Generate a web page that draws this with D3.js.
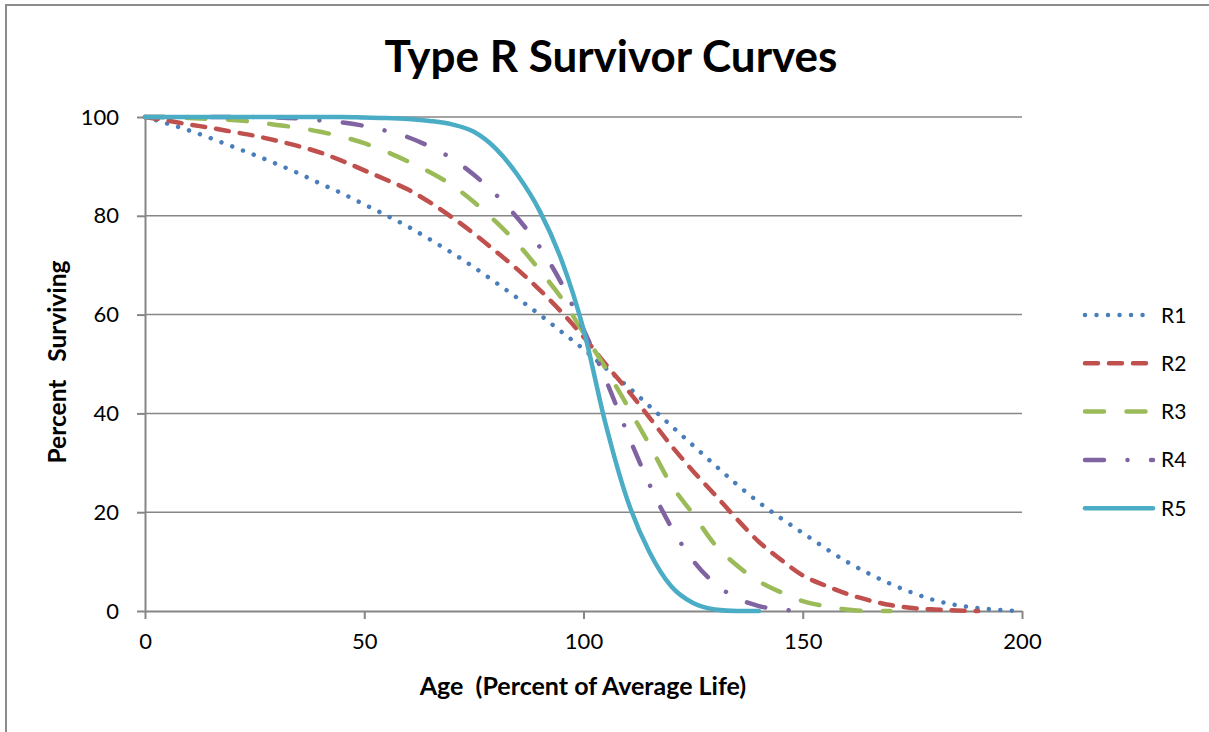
<!DOCTYPE html>
<meta charset="utf-8">
<style>
  body { margin: 0; background: #fff; }
  svg text { font-family: Lato, "Open Sans", sans-serif; fill: #000; }
  .grid line { stroke: #868686; stroke-width: 1.5; }
  .axis path, .axis line { stroke: #868686; stroke-width: 2; }
  .axis text { font-size: 22px; }
</style>

<script src="https://d3js.org/d3.v7.min.js"></script>

<div id="my_dataviz"></div>

<script>

// ages in percent of average life
var ages = [0, 5, 10, 15, 20, 25, 30, 35, 40, 45, 50, 55, 60, 65, 70, 75, 80, 85, 90, 95, 100,
            105, 110, 115, 120, 125, 130, 135, 140, 145, 150, 155, 160, 165, 170, 175, 180, 185, 190, 195, 200];

// percent surviving (each series stops where it hits 0)
var r1 = [100, 98.7, 97.3, 95.7, 94, 92.3, 90.5, 88.6, 86.5, 84.5, 82.3, 80.1, 77.8, 75.2, 72.5, 69.6, 66.5, 63.3, 60, 56.5, 53,
          49.2, 45.5, 41.5, 37.5, 33.5, 29.5, 25.6, 22, 18.8, 15.8, 12.8, 10, 7.6, 5.5, 3.7, 2.2, 1.2, 0.6, 0.2, 0];
var r2 = [100, 99.3, 98.5, 97.8, 97, 96.2, 95.2, 94.1, 92.8, 91.1, 89.2, 87.3, 85.3, 82.7, 79.7, 76.4, 72.8, 69.1, 65, 60.5, 55.5,
          50, 44.8, 39.2, 33.5, 28.3, 23.5, 18.6, 14, 10.4, 7.2, 5.2, 3.5, 2.2, 1.2, 0.6, 0.3, 0.1, 0];
var r3 = [100, 100, 99.8, 99.6, 99.4, 99, 98.4, 97.8, 97, 96, 94.7, 93, 91, 88.8, 86.2, 82.8, 78.8, 74.3, 69, 63.3, 56.3,
          49.2, 41.5, 33.7, 25.6, 19.6, 13.4, 9.2, 6, 3.8, 2, 1, 0.3, 0, 0];
var r4 = [100, 100, 100, 100, 100, 100, 99.9, 99.7, 99.3, 98.9, 98.2, 97.2, 95.9, 94, 91.6, 88.3, 84.3, 79.5, 73.7, 66.3, 57,
          47, 36, 25.7, 17, 10.2, 5.5, 2.6, 1, 0.3, 0];
var r5 = [100, 100, 100, 100, 100, 100, 100, 100, 100, 100, 99.9, 99.8, 99.6, 99.2, 98.5, 97, 93.6, 88.2, 81, 71, 57,
          38, 22.5, 12, 5, 1.6, 0.3, 0, 0];

var seriesNames = ["R1", "R2", "R3", "R4", "R5"];
var xTicks = [0, 50, 100, 150, 200];
var yTicks = [0, 20, 40, 60, 80, 100];

var W = 1209, H = 732;
var margin = {top: 117, right: 187, bottom: 121, left: 145};
var width = W - margin.left - margin.right,
    height = H - margin.top - margin.bottom;

var svg = d3.select("#my_dataviz")
  .append("svg")
    .attr("width", W)
    .attr("height", H);

// chart border (runs off the right and bottom edges)
svg.append("rect")
  .attr("x", 6).attr("y", 5)
  .attr("width", W).attr("height", H)
  .style("fill", "none")
  .style("stroke", "#8c8c8c")
  .style("stroke-width", 2);

var g = svg.append("g")
  .attr("transform", "translate(" + margin.left + "," + margin.top + ")");

var x = d3.scaleLinear().domain([0, 200]).range([0, width]);
var y = d3.scaleLinear().domain([0, 100]).range([height, 0]);

// horizontal gridlines
g.append("g")
  .attr("class", "grid")
  .selectAll("line")
  .data(yTicks.filter(function(d) { return d > 0; }))
  .enter().append("line")
    .attr("x1", 0).attr("x2", width)
    .attr("y1", function(d) { return y(d); })
    .attr("y2", function(d) { return y(d); });

// axes
var yAxis = g.append("g")
  .attr("class", "axis")
  .call(d3.axisLeft(y).tickValues(yTicks).tickSize(8).tickPadding(18).tickSizeOuter(0));

var xAxis = g.append("g")
  .attr("class", "axis")
  .attr("transform", "translate(0," + height + ")")
  .call(d3.axisBottom(x).tickValues(xTicks).tickSize(8).tickPadding(18).tickSizeOuter(0));
xAxis.selectAll("text").attr("dy", "0.55em");

// line styles, like the Excel dash presets
var styles = {
  R1: {color: "#4a7ebb", dash: "0.01 11.5"},
  R2: {color: "#c0504d", dash: "13 11"},
  R3: {color: "#9bbb59", dash: "19 22.5"},
  R4: {color: "#8064a2", dash: "19 23.5 0.01 23.5"},
  R5: {color: "#4bacc6", dash: null}
};

var allSeries = [r1, r2, r3, r4, r5];

var line = d3.line()
  .curve(d3.curveMonotoneX)
  .x(function(d) { return x(d[0]); })
  .y(function(d) { return y(d[1]); });

allSeries.forEach(function(vals, i) {
  var name = seriesNames[i];
  var pts = vals.map(function(v, j) { return [ages[j], v]; });
  g.append("path")
    .datum(pts)
    .attr("class", "line " + name)
    .attr("d", line)
    .style("fill", "none")
    .style("stroke", styles[name].color)
    .style("stroke-width", 4.5)
    .style("stroke-linecap", "round")
    .style("stroke-dasharray", styles[name].dash);
});

// title
svg.append("text")
  .attr("x", 611).attr("y", 72)
  .attr("text-anchor", "middle")
  .style("font-size", "44px")
  .style("font-weight", "bold")
  .text("Type R Survivor Curves");

// axis titles
svg.append("text")
  .attr("x", 583).attr("y", 695)
  .attr("text-anchor", "middle")
  .style("font-size", "25px")
  .style("font-weight", "bold")
  .style("white-space", "pre")
  .text("Age  (Percent of Average Life)");

svg.append("text")
  .attr("transform", "translate(66,362) rotate(-90)")
  .attr("text-anchor", "middle")
  .style("font-size", "24.5px")
  .style("font-weight", "bold")
  .style("white-space", "pre")
  .text("Percent   Surviving");

// legend
var legend = svg.selectAll("myLegend")
  .data(seriesNames)
  .enter().append("g")
    .attr("transform", function(d, i) { return "translate(1085," + (315 + i * 48.3) + ")"; });

legend.append("line")
  .attr("x1", 0).attr("x2", 68)
  .style("stroke", function(d) { return styles[d].color; })
  .style("stroke-width", 4.5)
  .style("stroke-linecap", "round")
  .style("stroke-dasharray", function(d) { return styles[d].dash; });

legend.append("text")
  .attr("x", 76).attr("dy", "0.36em")
  .style("font-size", "21px")
  .text(function(d) { return d; });

</script>
